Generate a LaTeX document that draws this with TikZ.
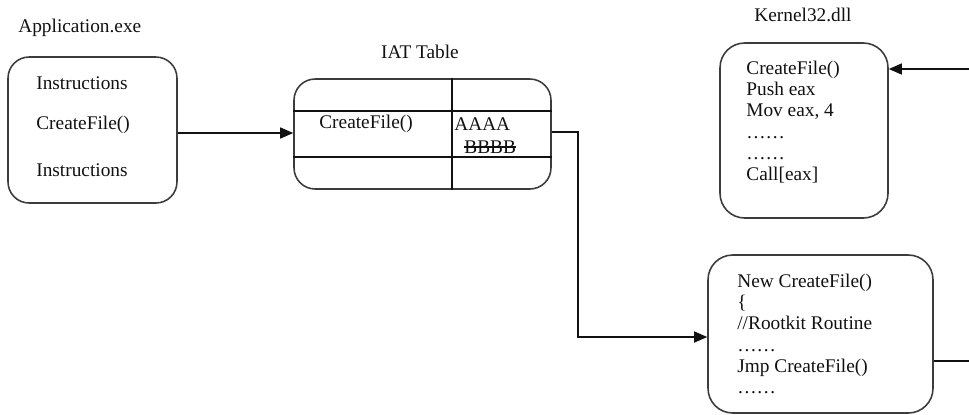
\documentclass[tikz,border=0pt]{standalone}
\usepackage{fontspec}
\setmainfont{Liberation Serif}
\usepackage{tikz}
\usetikzlibrary{arrows.meta,positioning,calc}
\definecolor{boxgray}{HTML}{3C3C3C}
\definecolor{inkblack}{HTML}{111111}
\tikzset{
  procbox/.style={rounded corners=12pt, draw=boxgray, line width=0.9pt, inner sep=0pt},
  codetext/.style={align=left, anchor=north west, inner sep=0pt, text=inkblack, font=\fontsize{11}{12}\selectfont},
  plaintext/.style={inner sep=0pt, text=inkblack, font=\fontsize{11}{12}\selectfont},
  gridline/.style={line width=0.8pt, draw=inkblack},
  edge/.style={-{Triangle[length=2.6mm, width=2.2mm]}, line width=0.8pt, draw=inkblack},
  plainedge/.style={line width=0.8pt, draw=inkblack}
}

\begin{document}
\begin{tikzpicture}[x=0.02cm, y=-0.02cm]
  \useasboundingbox (0,0) rectangle (969,414);
  % application
  \node[plaintext, anchor=west] (applabel) at (18,28) {Application.exe};
  \node[procbox, minimum width=3.38cm, minimum height=2.92cm] (app) at (92.5,130) {};
  \node[plaintext, anchor=west] (ins1) at (36,83) {Instructions};
  \node[plaintext, anchor=west] (appcall) at (36,125) {CreateFile()};
  \node[plaintext, anchor=west] (ins2) at (36,170) {Instructions};
  % import table
  \node[plaintext] (iatlabel) at (420,52) {IAT Table};
  \node[procbox, minimum width=5.14cm, minimum height=2.2cm] (iat) at (422.5,134) {};
  \draw[gridline] (452,0 |- iat.north) -- (452,0 |- iat.south);
  \draw[gridline] (iat.west |- 0,111) -- (iat.east |- 0,111);
  \draw[gridline] (iat.west |- 0,157) -- (iat.east |- 0,157);
  \node[plaintext, anchor=west] (iatname) at (319,124) {CreateFile()};
  \node[plaintext, anchor=west] (oldaddr) at (454,124) {AAAA};
  \node[plaintext, anchor=west] (newaddr) at (464,147) {BBBB};
  \draw[plainedge] (newaddr.west) -- (newaddr.east);
  % kernel32
  \node[plaintext] (kernlabel) at (803,15) {Kernel32.dll};
  \node[procbox, rounded corners=14pt, minimum width=3.36cm, minimum height=3.5cm] (kernel) at (804,130.5) {};
  \node[codetext] (kerncode) at (746,61) {CreateFile()\\Push eax\\Mov eax, 4\\……\\……\\Call[eax]};
  % hook
  \node[procbox, rounded corners=14pt, minimum width=4.5cm, minimum height=3.16cm] (hook) at (820.5,334) {};
  \node[codetext] (hookcode) at (737,274) {New CreateFile()\\\{\\//Rootkit Routine\\……\\Jmp CreateFile()\\……};
  % connectors
  \coordinate (kin) at (969,69);
  \coordinate (kout) at (969,361);
  \draw[edge] (app.east |- 0,133) -- (iat.west |- 0,133);
  \draw[edge] (iat.east |- 0,132) -- (578,132) |- (hook.west |- 0,337);
  \draw[edge] (kin) -- (kin -| kernel.east);
  \draw[plainedge] (hook.east |- kout) -- (kout);
\end{tikzpicture}
\end{document}
